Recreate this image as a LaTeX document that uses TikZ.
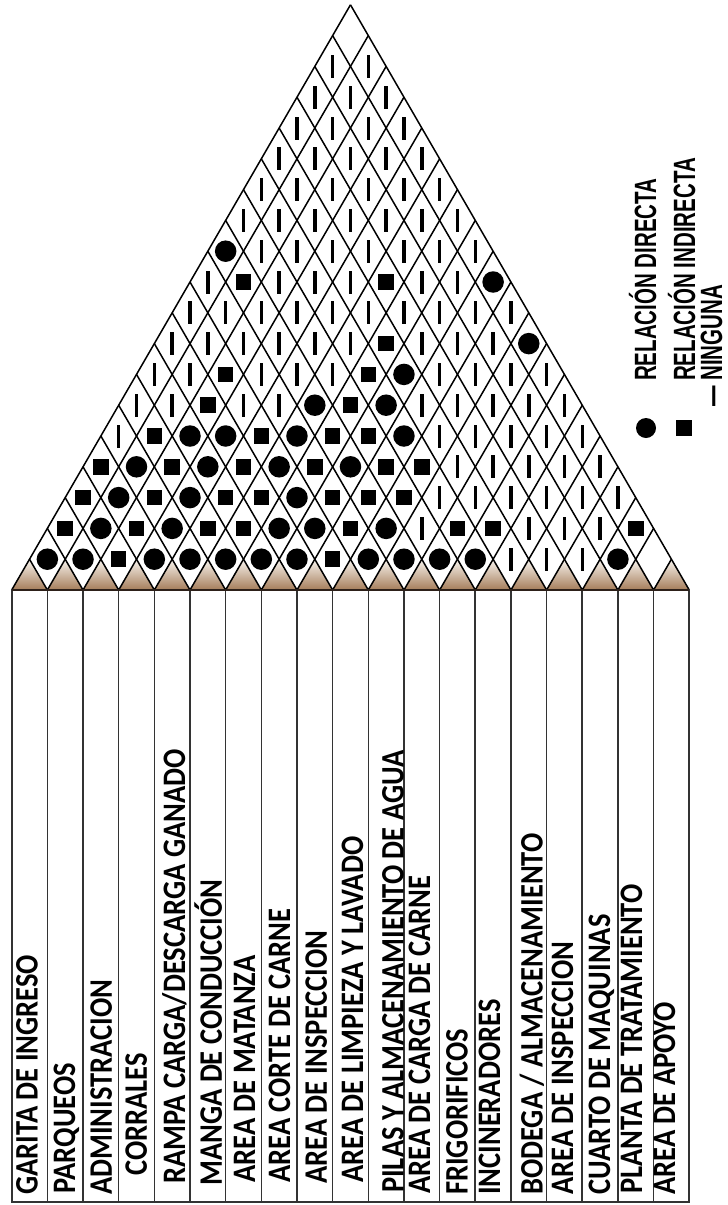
\documentclass[tikz,border=0pt]{standalone}
\usepackage{fontspec}
\usepackage{graphicx}
\newfontfamily\tablefont{Carlito}
\newfontfamily\legendfont{Liberation Sans}
\definecolor{tanbot}{RGB}{165,125,90}
\definecolor{tantop}{RGB}{248,244,238}
\definecolor{edgebrown}{RGB}{45,32,25}
\newcommand{\tabtxt}[1]{\scalebox{1}[1.15]{#1}}
\newcommand{\legtxt}[1]{\scalebox{1}[1.5]{#1}}
\tikzset{
 gridline/.style={line width=1.5pt, black},
 tabline/.style={line width=1.6pt, black!80},
 symC/.style={circle, fill=black, inner sep=0pt, minimum size=21.5pt},
 symS/.style={rectangle, fill=black, inner sep=0pt, minimum size=15.5pt},
 symB/.style={rectangle, fill=black, inner sep=0pt, minimum width=3.5pt, minimum height=23pt},
 symN/.style={inner sep=0pt},
 tablabel/.style={rotate=90, anchor=base west, inner sep=0pt, font={\tablefont\bfseries\fontsize{28.5}{30}\selectfont}},
 leglabel/.style={rotate=90, anchor=base west, inner sep=0pt, font={\legendfont\bfseries\fontsize{20.5}{22}\selectfont}},
}
\begin{document}
\begin{tikzpicture}[x=1pt,y=-1pt]
\useasboundingbox (0,0) rectangle (728,1205);
\pgfmathsetmacro\BX{11.7}
\pgfmathsetmacro\CW{35.66}
\pgfmathsetmacro\HW{\CW/2}
\pgfmathsetmacro\BY{590}
\pgfmathsetmacro\SL{1.7274}
\pgfmathsetmacro\BE{\BX+19*\CW}
\pgfmathsetmacro\TB{1201.7}
% brown base triangles
\foreach \k in {0,...,18}{
  \pgfmathsetmacro\xa{\BX+\k*\CW}
  \pgfmathsetmacro\xb{\xa+\CW}
  \pgfmathsetmacro\xc{\xa+\HW}
  \pgfmathsetmacro\yc{\BY-\SL*\HW}
  \shade[top color=tantop, bottom color=tanbot] (\xa,\BY) -- (\xb,\BY) -- (\xc,\yc) -- cycle;
}
% diagonal grid
\foreach \k in {0,...,19}{
  \pgfmathsetmacro\xk{\BX+\k*\CW}
  \pgfmathsetmacro\xr{(\xk+\BE)/2}
  \pgfmathsetmacro\yr{\BY-\SL*(\BE-\xk)/2}
  \pgfmathsetmacro\xl{(\xk+\BX)/2}
  \pgfmathsetmacro\yl{\BY-\SL*(\xk-\BX)/2}
  \draw[gridline, line join=miter] (\xl,\yl) -- (\xk,\BY) -- (\xr,\yr);
}
% symbols: row d holds the pairs (i, i+d)
\foreach \d/\row in {
  1/{C,C,S,C,C,C,C,C,S,C,C,C,C,B,B,B,C,N},
  2/{S,C,S,C,S,S,C,C,S,C,B,S,S,B,B,B,S},
  3/{S,C,S,C,S,S,C,S,S,S,B,B,B,B,B,B},
  4/{S,C,S,C,S,C,S,C,S,S,B,B,B,B,B},
  5/{B,S,C,C,S,C,S,S,C,B,B,B,B,B},
  6/{B,B,S,B,B,C,S,C,B,B,B,B,B},
  7/{B,B,S,B,B,B,S,C,B,B,B,B},
  8/{B,B,B,B,B,B,S,B,B,B,C},
  9/{B,B,B,B,B,B,B,B,B,B},
  10/{B,S,B,B,B,S,B,B,C},
  11/{C,B,B,B,B,B,B,B},
  12/{B,B,B,B,B,B,B},
  13/{B,B,B,B,B,B},
  14/{B,B,B,B,B},
  15/{B,B,B,B},
  16/{B,B,B},
  17/{B,B},
  18/{N}}{
  \foreach \t [count=\ii from 0] in \row {
    \pgfmathsetmacro\px{\BX+\HW+\HW*(2*\ii+\d)}
    \pgfmathsetmacro\py{\BY-\SL*\HW*\d}
    \node[sym\t] (m\ii-\d) at (\px,\py) {};
  }
}
% table
\draw[tabline] (\BX,\BY) rectangle (\BE,\TB);
\foreach \k in {1,...,18}{
  \draw[tabline] ({\BX+\k*\CW},\BY) -- ({\BX+\k*\CW},\TB);
}
\draw[line width=2.2pt, edgebrown] (\BX,\BY) -- (\BE,\BY);
% labels
\node[tablabel] (l0)  at (37.7,1195) {\tabtxt{GARITA DE INGRESO}};
\node[tablabel] (l1)  at (75.2,1194) {\tabtxt{PARQUEOS}};
\node[tablabel] (l2)  at (111.9,1195) {\tabtxt{ADMINISTRACION}};
\node[tablabel] (l3)  at (146.9,1176) {\tabtxt{CORRALES}};
\node[tablabel] (l4)  at (185.2,1184) {\tabtxt{RAMPA CARGA/DESCARGA GANADO}};
\node[tablabel] (l5)  at (221.9,1186) {\tabtxt{MANGA DE CONDUCCIÓN}};
\node[tablabel] (l6)  at (255.2,1183) {\tabtxt{AREA DE MATANZA}};
\node[tablabel] (l7)  at (290.2,1183) {\tabtxt{AREA CORTE DE CARNE}};
\node[tablabel] (l8)  at (326.9,1184) {\tabtxt{AREA DE INSPECCION}};
\node[tablabel] (l9)  at (363.2,1183) {\tabtxt{AREA DE LIMPIEZA Y LAVADO}};
\node[tablabel] (l10) at (403.6,1193) {\tabtxt{PILAS Y ALMACENAMIENTO DE AGUA}};
\node[tablabel] (l11) at (430.2,1194) {\tabtxt{AREA DE CARGA DE CARNE}};
\node[tablabel] (l12) at (467.7,1195) {\tabtxt{FRIGORIFICOS}};
\node[tablabel] (l13) at (500.2,1195) {\tabtxt{INCINERADORES}};
\node[tablabel] (l14) at (542.5,1195) {\tabtxt{BODEGA / ALMACENAMIENTO}};
\node[tablabel] (l15) at (573.2,1195) {\tabtxt{AREA DE INSPECCION}};
\node[tablabel] (l16) at (610.2,1195) {\tabtxt{CUARTO DE MAQUINAS}};
\node[tablabel] (l17) at (642.2,1194) {\tabtxt{PLANTA DE TRATAMIENTO}};
\node[tablabel] (l18) at (675.2,1195) {\tabtxt{AREA DE APOYO}};
% legend
\node[symC, minimum size=20pt] (legC) at (646,428) {};
\node[leglabel] (legT1) at (656,381) {\legtxt{RELACIÓN DIRECTA}};
\node[symS] (legS) at (684,428) {};
\node[leglabel] (legT2) at (695,381) {\legtxt{RELACIÓN INDIRECTA}};
\node[leglabel] (legT3) at (722,407) {\legtxt{— NINGUNA}};
\end{tikzpicture}
\end{document}
